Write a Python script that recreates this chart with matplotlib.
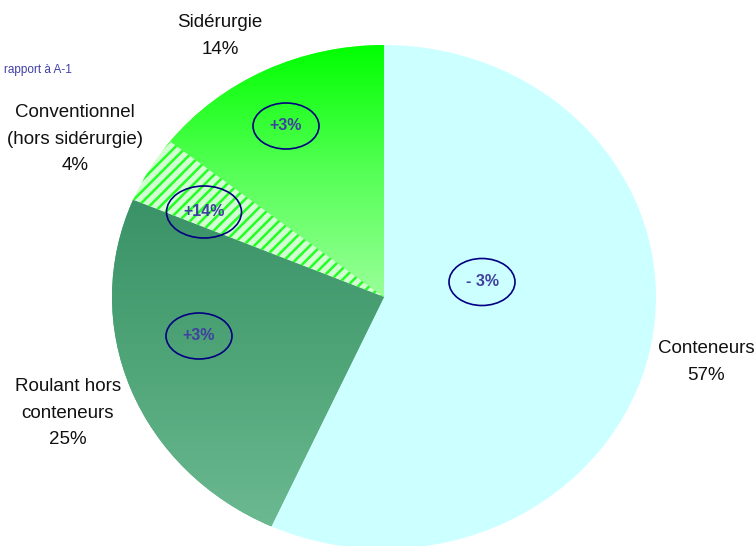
import numpy as np
import matplotlib
matplotlib.use("Agg")
import matplotlib.pyplot as plt
from matplotlib.patches import Ellipse, Wedge
from matplotlib.colors import LinearSegmentedColormap

# ---- data ----
categories = ["Conteneurs", "Roulant hors\nconteneurs", "Conventionnel\n(hors sidérurgie)", "Sidérurgie"]
shares = [56.8, 24.5, 4.3, 14.4]          # slice sizes
share_labels = [57, 25, 4, 14]            # percentages as printed
changes = ["- 3%", "+3%", "+14%", "+3%"]
note_text = "rapport à A-1"

# ---- layout / style ----
label_pos = [(706, 362), (68, 413), (75, 139), (220, 36)]
change_pos = [(482, 282), (199, 336), (204, 212), (286, 126)]
change_size = [(66, 47), (66, 46), (75, 52), (66, 46)]

plt.rcParams['hatch.linewidth'] = 1.8
font = ['Liberation Sans', 'DejaVu Sans']

W, H = 754, 546
fig = plt.figure(figsize=(W / 100, H / 100), dpi=100)
fig.patch.set_facecolor('white')

# pie axes (elliptical pie: rx=272, ry=252, centre (384,297) in pixels)
cx, cy, rx, ry = 384, 297, 272, 252
pax = fig.add_axes([(cx - rx) / W, (H - (cy + ry)) / H, 2 * rx / W, 2 * ry / H])
wedges, _ = pax.pie(shares, startangle=90, counterclock=False,
                    colors=['#CCFFFF', '#4FA577', '#D2FFD2', '#66FF66'],
                    wedgeprops=dict(linewidth=0))
pax.set_aspect('auto')
pax.axis('off')

# gradient fills
grad = np.linspace(0, 1, 256).reshape(-1, 1)
cm_sid = LinearSegmentedColormap.from_list('sid', ['#00FF00', '#55FF55', '#99FF99'])
im = pax.imshow(grad, cmap=cm_sid, extent=(-1, 1, 0, 1), origin='upper',
                aspect='auto', interpolation='bilinear', zorder=2)
im.set_clip_path(wedges[3])
cm_rou = LinearSegmentedColormap.from_list('rou', ['#389066', '#4FA577', '#6DBA93'])
im2 = pax.imshow(grad, cmap=cm_rou, extent=(-1, 1, -0.95, 0.45), origin='upper',
                 aspect='auto', interpolation='bilinear', zorder=2)
im2.set_clip_path(wedges[1])

# hatch on conventionnel
w = wedges[2]
hw = Wedge((0, 0), 1, w.theta1, w.theta2, facecolor='none', edgecolor='#22FF22',
           hatch='///', linewidth=0, zorder=3)
pax.add_patch(hw)
pax.set_xlim(-1, 1)
pax.set_ylim(-1, 1)

# overlay axes in pixel coordinates
ax = fig.add_axes([0, 0, 1, 1])
ax.set_xlim(0, W)
ax.set_ylim(H, 0)
ax.axis('off')
ax.patch.set_alpha(0)

for cat, val, (x, y) in zip(categories, share_labels, label_pos):
    ax.text(x, y, f"{cat}\n{val}%", ha='center', va='center', fontsize=13.5,
            family=font, color='#111111', linespacing=1.72)

for ch, (x, y), (ew, eh) in zip(changes, change_pos, change_size):
    ax.add_patch(Ellipse((x, y), ew, eh, facecolor='none', edgecolor='#000080', linewidth=1.2))
    ax.text(x, y, ch, ha='center', va='center', fontsize=11.5, family=font,
            color='#4040A0', fontweight='bold')

ax.text(4, 70, note_text, ha='left', va='center', fontsize=8.5, color='#3F3FA8',
        family=font)

fig.savefig('out.png', dpi=100, facecolor='white')
